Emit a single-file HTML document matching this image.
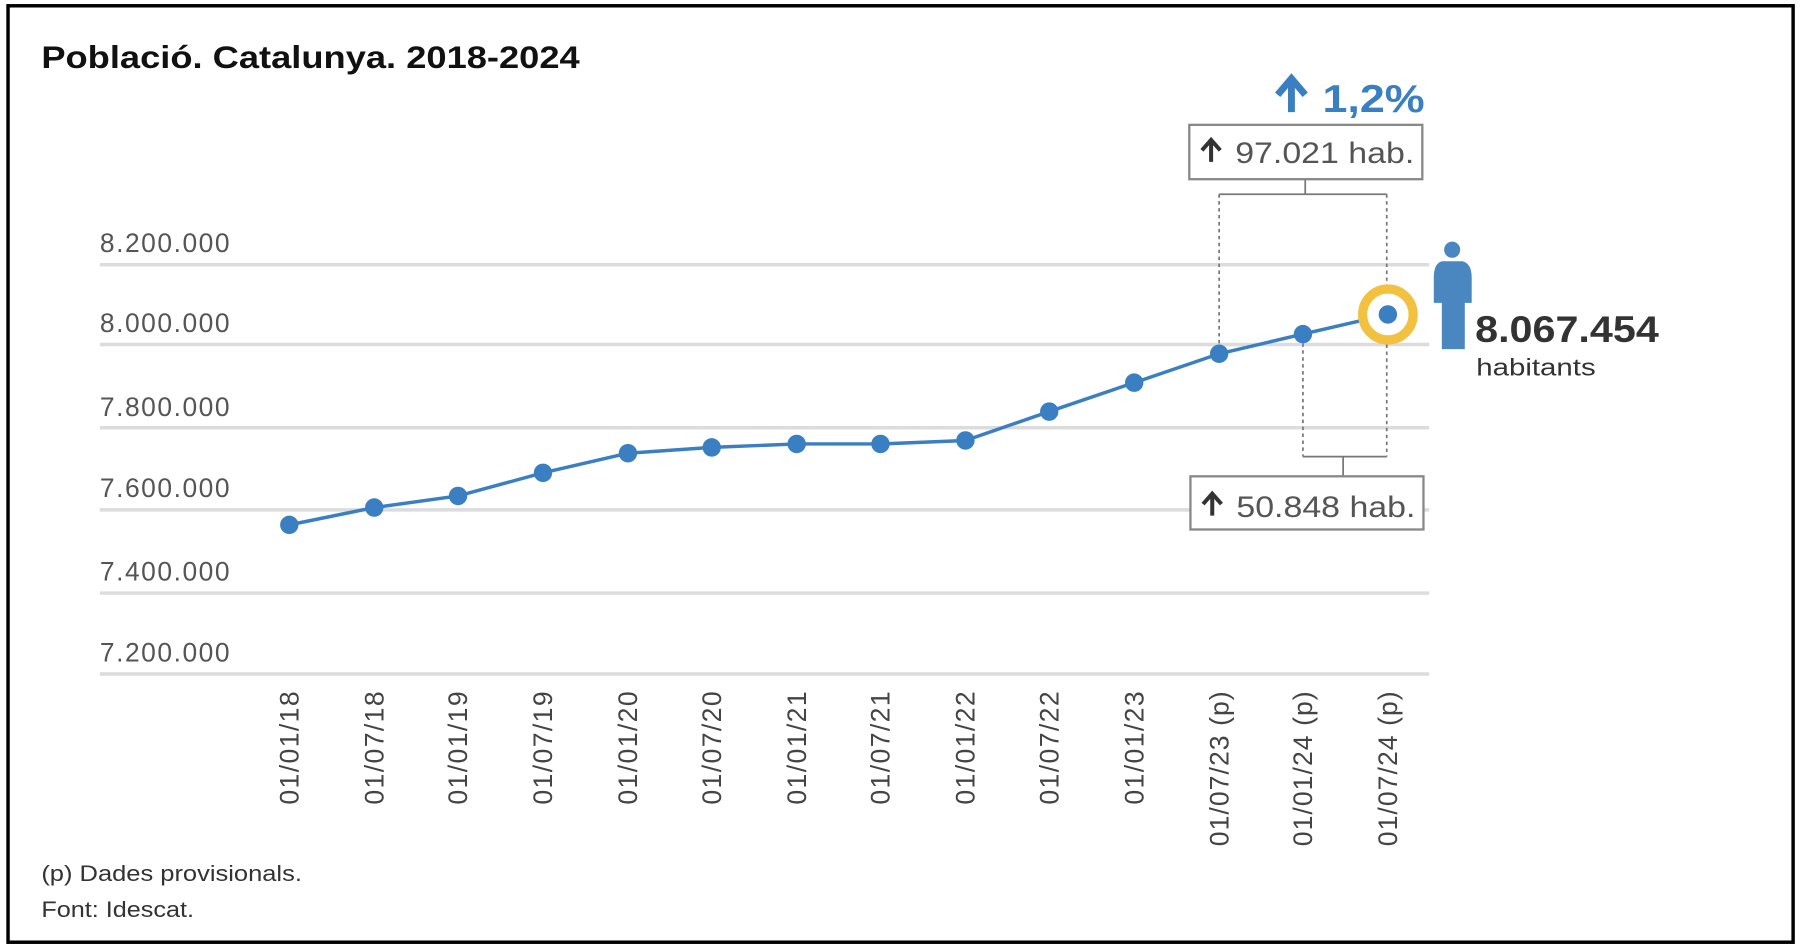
<!DOCTYPE html>
<html><head><meta charset="utf-8"><style>html,body{margin:0;padding:0;background:#fff}svg{display:block}</style></head>
<body>
<svg width="1800" height="948" viewBox="0 0 1568 820" preserveAspectRatio="none" xmlns="http://www.w3.org/2000/svg" font-family="Liberation Sans, sans-serif">
<rect x="7" y="5" width="1555" height="810" fill="#fff" stroke="#000" stroke-width="3"/>
<text x="36" y="59" font-size="27" font-weight="bold" fill="#111" textLength="469" lengthAdjust="spacingAndGlyphs">Població. Catalunya. 2018-2024</text>
<g stroke="#dcdcdc" stroke-width="3">
<line x1="87" x2="1245" y1="229" y2="229"/><line x1="87" x2="1245" y1="298" y2="298"/>
<line x1="87" x2="1245" y1="370" y2="370"/><line x1="87" x2="1245" y1="441" y2="441"/>
<line x1="87" x2="1245" y1="513" y2="513"/><line x1="87" x2="1245" y1="583" y2="583"/>
</g>
<g font-size="23" fill="#555" lengthAdjust="spacingAndGlyphs">
<text x="87" y="218" textLength="113">8.200.000</text><text x="87" y="287" textLength="113">8.000.000</text>
<text x="87" y="360" textLength="113">7.800.000</text><text x="87" y="430" textLength="113">7.600.000</text>
<text x="87" y="502" textLength="113">7.400.000</text><text x="87" y="572" textLength="113">7.200.000</text>
</g>
<g stroke="#777" stroke-width="1.5" fill="none">
<path d="M1137 155V168M1062 168H1208M1135 395H1208M1170 395V412"/>
<path d="M1062 168V308M1208 168V262M1135 291V395M1208 286V395" stroke-dasharray="3 3"/>
</g>
<g transform="translate(0,-2)">
<polyline fill="none" stroke="#3a7fc1" stroke-width="3" points="252,456 326,441 399,431 473,411 547,394 620,389 694,386 767,386 841,383 914,358 988,333 1062,308 1135,291 1209,274"/>
<circle cx="1209" cy="274" r="22" fill="#fff" stroke="#f3c140" stroke-width="8"/>
<g fill="#3a7fc1">
<circle cx="252" cy="456" r="8"/><circle cx="326" cy="441" r="8"/><circle cx="399" cy="431" r="8"/><circle cx="473" cy="411" r="8"/>
<circle cx="547" cy="394" r="8"/><circle cx="620" cy="389" r="8"/><circle cx="694" cy="386" r="8"/><circle cx="767" cy="386" r="8"/>
<circle cx="841" cy="383" r="8"/><circle cx="914" cy="358" r="8"/><circle cx="988" cy="333" r="8"/><circle cx="1062" cy="308" r="8"/>
<circle cx="1135" cy="291" r="8"/><circle cx="1209" cy="274" r="8"/>
</g>
</g>
<g font-size="23" fill="#444" text-anchor="end" lengthAdjust="spacingAndGlyphs">
<text transform="translate(260,598) rotate(-90)" textLength="98">01/01/18</text><text transform="translate(334,598) rotate(-90)" textLength="98">01/07/18</text>
<text transform="translate(407,598) rotate(-90)" textLength="98">01/01/19</text><text transform="translate(481,598) rotate(-90)" textLength="98">01/07/19</text>
<text transform="translate(555,598) rotate(-90)" textLength="98">01/01/20</text><text transform="translate(628,598) rotate(-90)" textLength="98">01/07/20</text>
<text transform="translate(702,598) rotate(-90)" textLength="98">01/01/21</text><text transform="translate(775,598) rotate(-90)" textLength="98">01/07/21</text>
<text transform="translate(849,598) rotate(-90)" textLength="98">01/01/22</text><text transform="translate(922,598) rotate(-90)" textLength="98">01/07/22</text>
<text transform="translate(996,598) rotate(-90)" textLength="98">01/01/23</text><text transform="translate(1070,598) rotate(-90)" textLength="134">01/07/23 (p)</text>
<text transform="translate(1143,598) rotate(-90)" textLength="134">01/01/24 (p)</text><text transform="translate(1217,598) rotate(-90)" textLength="134">01/07/24 (p)</text>
</g>
<rect x="1036" y="108" width="203" height="47" fill="#fff" stroke="#888" stroke-width="2"/>
<path d="M1055 140V122M1047 130L1055 121L1063 130" stroke="#333" stroke-width="3.5" fill="none"/>
<text x="1076" y="141" font-size="26" fill="#555" textLength="156" lengthAdjust="spacingAndGlyphs">97.021 hab.</text>
<rect x="1037" y="412" width="203" height="46" fill="#fff" stroke="#888" stroke-width="2"/>
<path d="M1056 446V428M1048 436L1056 427L1064 436" stroke="#333" stroke-width="3.5" fill="none"/>
<text x="1077" y="447" font-size="26" fill="#555" textLength="156" lengthAdjust="spacingAndGlyphs">50.848 hab.</text>
<path d="M1125 97V70M1113 82L1125 68L1137 82" stroke="#3a7fc1" stroke-width="6" fill="none"/>
<text x="1152" y="97" font-size="34" font-weight="bold" fill="#3a7fc1" textLength="89" lengthAdjust="spacingAndGlyphs">1,2%</text>
<g fill="#4a86c0">
<circle cx="1265" cy="216" r="7"/>
<path d="M1256 226H1274Q1282 228 1282 240V262H1276V302H1256V262H1249V240Q1249 228 1256 226Z"/>
</g>
<text x="1285" y="296" font-size="32" font-weight="bold" fill="#333" textLength="160" lengthAdjust="spacingAndGlyphs">8.067.454</text>
<text x="1286" y="325" font-size="21" fill="#333" textLength="104" lengthAdjust="spacingAndGlyphs">habitants</text>
<text x="36" y="762" font-size="19" fill="#333" textLength="227" lengthAdjust="spacingAndGlyphs">(p) Dades provisionals.</text>
<text x="36" y="793" font-size="19" fill="#333" textLength="133" lengthAdjust="spacingAndGlyphs">Font: Idescat.</text>
</svg>
</body></html>
